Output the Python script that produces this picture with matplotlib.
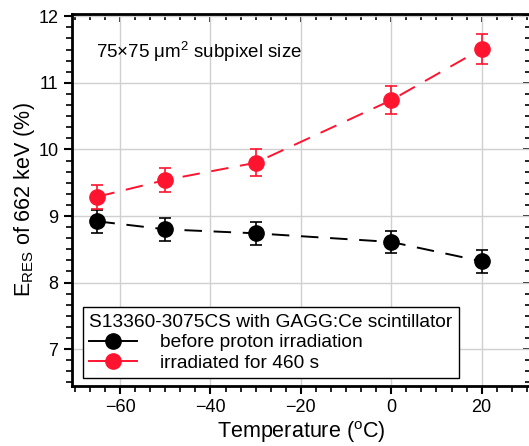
import numpy as np
import matplotlib
matplotlib.use('Agg')
import matplotlib.pyplot as plt
from matplotlib.lines import Line2D
from matplotlib.ticker import MultipleLocator

plt.rcParams['font.family'] = ['Liberation Sans', 'DejaVu Sans']
plt.rcParams['mathtext.fontset'] = 'custom'
plt.rcParams['mathtext.rm'] = 'Liberation Sans'
plt.rcParams['mathtext.it'] = 'Liberation Sans:italic'

# data
temps = [-65, -50, -30, 0, 20]
before = [8.92, 8.80, 8.74, 8.61, 8.32]
before_err = [0.17, 0.17, 0.17, 0.17, 0.17]
irrad = [9.29, 9.54, 9.80, 10.74, 11.51]
irrad_err = [0.18, 0.18, 0.20, 0.21, 0.23]
red = '#ff1430'

fig = plt.figure(figsize=(5.29, 4.46), dpi=100)
ax = fig.add_axes([0.1355, 0.135, 0.869, 0.833])

ax.errorbar(temps, before, yerr=before_err, color='black', marker='o', ms=11,
            ls=(0, (9, 6)), lw=1.4, capsize=4, elinewidth=1.2, capthick=1.2, zorder=3)
ax.errorbar(temps, irrad, yerr=irrad_err, color=red, marker='o', ms=11,
            ls=(0, (9, 6)), lw=1.4, capsize=4, elinewidth=1.2, capthick=1.2, zorder=3)

ax.set_xlim(-70.7, 31)
ax.set_ylim(6.45, 12.03)
ax.xaxis.set_major_locator(MultipleLocator(20))
ax.xaxis.set_minor_locator(MultipleLocator(20 / 6))
ax.yaxis.set_major_locator(MultipleLocator(1))
ax.yaxis.set_minor_locator(MultipleLocator(1 / 6))
ax.grid(True, which='major', color='#d0d0d0', lw=1)
ax.set_axisbelow(True)
ax.tick_params(which='major', direction='out', length=6, width=1.5, labelsize=13)
ax.tick_params(which='minor', direction='out', length=4, width=1.2)
for s in ax.spines.values():
    s.set_linewidth(2)

# inward ticks on top and right
top = ax.secondary_xaxis('top')
top.xaxis.set_major_locator(MultipleLocator(20))
top.xaxis.set_minor_locator(MultipleLocator(20 / 6))
top.tick_params(which='both', direction='in', labeltop=False, width=1.2)
top.tick_params(which='major', length=6)
top.tick_params(which='minor', length=4)
right = ax.secondary_yaxis('right')
right.yaxis.set_major_locator(MultipleLocator(1))
right.yaxis.set_minor_locator(MultipleLocator(1 / 6))
right.tick_params(which='both', direction='in', labelright=False, width=1.2)
right.tick_params(which='major', length=6)
right.tick_params(which='minor', length=4)

ax.set_xlabel('Temperature ($^{\\rm o}$C)', fontsize=15.5, labelpad=2)
ax.set_ylabel(r'E$_{\rm RES}$ of 662 keV (%)', fontsize=15.5, labelpad=1)

ax.text(0.053, 0.898, '75×75 μm$^2$ subpixel size', transform=ax.transAxes,
        fontsize=13.5, va='center', ha='left')

handles = [Line2D([], [], color='black', marker='o', ms=11, lw=1.4),
           Line2D([], [], color=red, marker='o', ms=11, lw=1.4)]
leg = ax.legend(handles, ['before proton irradiation', 'irradiated for 460 s'],
                title='S13360-3075CS with GAGG:Ce scintillator',
                loc='lower left', bbox_to_anchor=(0.024, 0.02), fontsize=13.8,
                title_fontsize=13.8, fancybox=False, framealpha=1,
                edgecolor='black', handlelength=2.5, handletextpad=1.2,
                borderpad=0.35, labelspacing=0.15, borderaxespad=0)
leg._legend_box.align = 'left'
leg.get_frame().set_linewidth(1)

fig.savefig('out.png', dpi=100)
